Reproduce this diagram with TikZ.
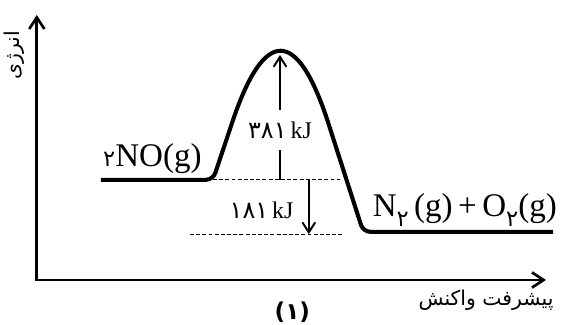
\documentclass[tikz,border=0pt]{standalone}
\usepackage{fontspec}
\setmainfont{Liberation Serif}
\newfontfamily\arabicfont[Script=Arabic]{DejaVu Sans}
\TeXXeTstate=1
\usetikzlibrary{arrows.meta}
\newcommand\pdig[1]{{\arabicfont #1}}
\newcommand\spdig[1]{{\arabicfont\fontsize{16}{16}\selectfont #1}}
\newcommand\lowtwo{\raisebox{-7pt}{\spdig{۲}}}
\tikzset{
  axisarrow/.style={{Straight Barb[length=2.9mm, width=3.8mm]}-{Straight Barb[length=2.9mm, width=3.8mm]},
    line width=1.9pt, line join=miter},
  energyline/.style={line width=2.9pt, line join=round, rounded corners=5pt},
  guideline/.style={line width=0.7pt, dash pattern=on 2.8pt off 1.6pt},
  gapflow/.style={-{Straight Barb[length=2.5mm, width=3.2mm]}, line width=1.4pt},
  specieslab/.style={font=\fontsize{23.5}{26}\selectfont, inner sep=0pt},
  gaplab/.style={font=\fontsize{17}{19}\selectfont, inner sep=1pt},
  axislab/.style={font=\fontsize{14.5}{16}\selectfont\arabicfont, inner sep=0pt},
  figlab/.style={font=\fontsize{16.5}{19}\selectfont\arabicfont\bfseries, inner sep=0pt},
}
\begin{document}
\begin{tikzpicture}[font=\small]
\useasboundingbox (0,0) rectangle (14.025,8.125);
% axes
\coordinate (origin) at (0.92,1.125);
\coordinate (ytop) at (0.92,7.75);
\coordinate (xend) at (13.65,1.125);
\draw[axisarrow] (ytop) -- (origin) -- (xend);
\node[axislab, rotate=90] (ylab) at (0.35,6.75) {\beginR انرژی\endR};
\node[axislab] (xlab) at (12.15,0.62) {\beginR پیشرفت واکنش\endR};
% energy profile
\coordinate (reacstart) at (2.52,3.63);
\coordinate (reaccorner) at (5.325,3.63);
\coordinate (climbtop) at (5.742,4.875);
\coordinate (dropstart) at (8.263,4.875);
\coordinate (prodcorner) at (9.08,2.33);
\coordinate (prodend) at (13.825,2.33);
\draw[energyline] (reacstart) -- (reaccorner) -- (climbtop)
  .. controls (6.60,7.455) and (7.43,7.465) .. (dropstart) -- (prodcorner) -- (prodend);
% dashed guides
\coordinate (higuide) at (8.5,3.63);
\coordinate (loguidestart) at (4.75,2.25);
\coordinate (loguideend) at (8.55,2.25);
\draw[guideline] (reaccorner) -- (higuide);
\draw[guideline] (loguidestart) -- (loguideend);
% activation energy
\coordinate (eabase) at (7.0,3.63);
\coordinate (peak) at (7.0,6.75);
\draw[gapflow] (eabase) -- node[gaplab, pos=0.4, fill=white, inner ysep=8pt] (ealab)
  {\pdig{۳۸۱}\,kJ} (peak);
% reaction enthalpy
\coordinate (dhtop) at (7.72,3.63);
\coordinate (dhbot) at (7.72,2.27);
\draw[gapflow] (dhtop) -- (dhbot);
\node[gaplab] (dhlab) at (6.54,2.875) {\pdig{۱۸۱}\,kJ};
% species and caption
\node[specieslab, anchor=base] (reac) at (3.81,3.96) {\spdig{۲}NO(g)};
\node[specieslab, anchor=base] (prod) at (11.62,2.71) {N\lowtwo\,(g)\,+\,O\lowtwo(g)};
\node[figlab] (fignum) at (7.31,0.33) {(۱)};
\end{tikzpicture}
\end{document}
